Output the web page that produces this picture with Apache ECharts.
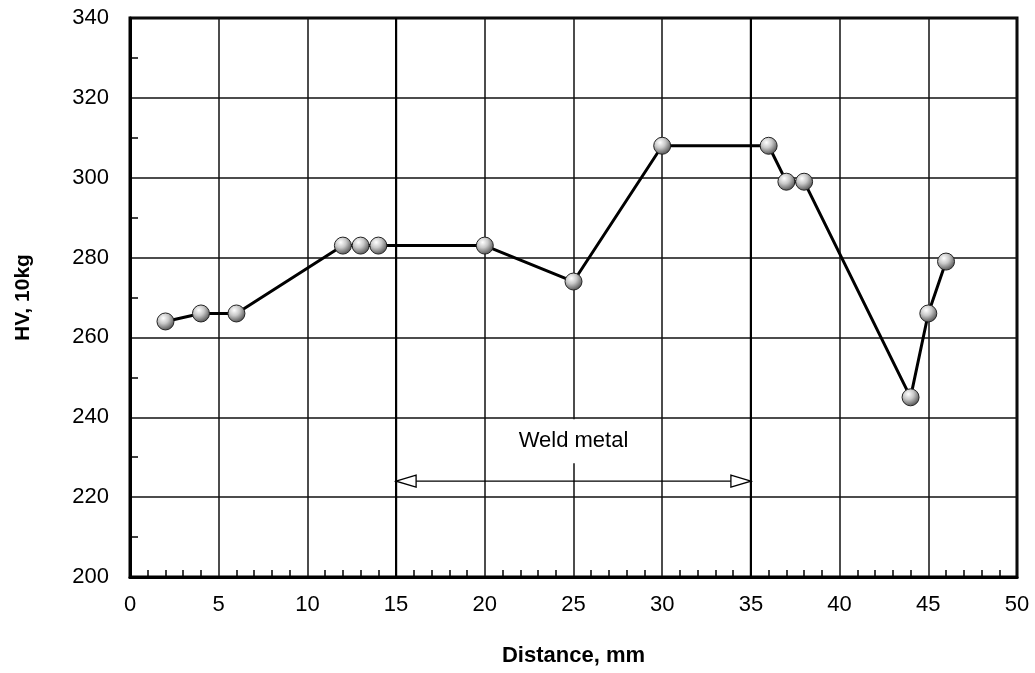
<!DOCTYPE html>
<html lang="en">
<head>
    <meta charset="UTF-8">
    <title>HV profile</title>
    <script src="https://cdn.jsdelivr.net/npm/echarts@6/dist/echarts.min.js"></script>
    <style>
        html, body { margin: 0; padding: 0; background: #fff; }
        #main { width: 1035px; height: 673px; }
    </style>
</head>
<body>
<div id="main"></div>
<script type="text/javascript">
    // distance (mm) and hardness readings
    var distance = [2, 4, 6, 12, 13, 14, 20, 25, 30, 36, 37, 38, 44, 45, 46];
    var hardness = [264, 266, 266, 283, 283, 283, 283, 274, 308, 308, 299, 299, 245, 266, 279];

    // weld metal zone
    var weldStart = 15;
    var weldEnd = 35;
    var arrowLevel = 224;
    var labelLevel = 234;
    var weldLabel = 'Weld metal';

    var points = [];
    for (var i = 0; i < distance.length; i++) {
        points.push([distance[i], hardness[i]]);
    }

    var font = '"Liberation Sans", Arial, sans-serif';
    var myChart = echarts.init(document.getElementById('main'));

    myChart.setOption({
        animation: false,
        grid: {left: 130, right: 18, top: 18, bottom: 96, show: true, borderColor: '#000', borderWidth: 3},
        xAxis: {
            type: 'value',
            min: 0,
            max: 50,
            interval: 5,
            name: 'Distance, mm',
            nameLocation: 'middle',
            nameGap: 68,
            nameTextStyle: {fontFamily: font, fontSize: 22, fontWeight: 'bold', color: '#000'},
            axisLine: {show: true, onZero: false, lineStyle: {color: '#000', width: 3}},
            axisTick: {show: false, inside: true},
            minorTick: {show: true, splitNumber: 5, length: 7, lineStyle: {color: '#000', width: 1.5}},
            axisLabel: {fontFamily: font, fontSize: 22, color: '#000', margin: 17},
            splitLine: {show: true, lineStyle: {color: '#111', width: 1.5}}
        },
        yAxis: {
            type: 'value',
            min: 200,
            max: 340,
            interval: 20,
            name: 'HV, 10kg',
            nameLocation: 'middle',
            nameGap: 96,
            nameTextStyle: {fontFamily: font, fontSize: 21, fontWeight: 'bold', color: '#000'},
            axisLine: {show: true, onZero: false, lineStyle: {color: '#000', width: 3}},
            axisTick: {show: false, inside: true},
            minorTick: {show: true, splitNumber: 2, length: 8, lineStyle: {color: '#000', width: 1.5}},
            axisLabel: {fontFamily: font, fontSize: 22, color: '#000', margin: 21},
            splitLine: {show: true, lineStyle: {color: '#111', width: 1.5}}
        },
        series: [{
            // weld zone boundaries, arrow and label
            type: 'custom',
            silent: true,
            z: 1,
            data: [[weldStart, weldEnd, arrowLevel, labelLevel]],
            renderItem: function (params, api) {
                var x0 = api.value(0), x1 = api.value(1), ya = api.value(2), yl = api.value(3);
                var top0 = api.coord([x0, 340]), bot0 = api.coord([x0, 200]);
                var top1 = api.coord([x1, 340]), bot1 = api.coord([x1, 200]);
                var a = api.coord([x0, ya]), b = api.coord([x1, ya]);
                var lbl = api.coord([(x0 + x1) / 2, yl]);
                var hl = 20, hw = 6;
                var arrowStyle = {fill: '#fff', stroke: '#000', lineWidth: 1.3};
                return {
                    type: 'group',
                    children: [
                        {type: 'line', shape: {x1: top0[0], y1: top0[1], x2: bot0[0], y2: bot0[1]}, style: {stroke: '#000', lineWidth: 2.2}},
                        {type: 'line', shape: {x1: top1[0], y1: top1[1], x2: bot1[0], y2: bot1[1]}, style: {stroke: '#000', lineWidth: 2.2}},
                        {type: 'line', shape: {x1: a[0] + hl, y1: a[1], x2: b[0] - hl, y2: b[1]}, style: {stroke: '#000', lineWidth: 1.3}},
                        {type: 'polygon', shape: {points: [[a[0], a[1]], [a[0] + hl, a[1] - hw], [a[0] + hl, a[1] + hw]]}, style: arrowStyle},
                        {type: 'polygon', shape: {points: [[b[0], b[1]], [b[0] - hl, b[1] - hw], [b[0] - hl, b[1] + hw]]}, style: arrowStyle},
                        {
                            type: 'text',
                            x: lbl[0],
                            y: lbl[1],
                            style: {
                                text: weldLabel,
                                fontFamily: font,
                                fontSize: 22,
                                fill: '#000',
                                align: 'center',
                                verticalAlign: 'middle',
                                backgroundColor: '#fff',
                                padding: [11, 6]
                            }
                        }
                    ]
                };
            }
        }, {
            name: 'HV',
            type: 'line',
            z: 3,
            data: points,
            symbol: 'circle',
            symbolSize: 17,
            lineStyle: {color: '#000', width: 3},
            itemStyle: {
                color: new echarts.graphic.RadialGradient(0.38, 0.32, 0.75, [
                    {offset: 0, color: '#ffffff'},
                    {offset: 0.4, color: '#c8c8c8'},
                    {offset: 1, color: '#3e3e3e'}
                ]),
                borderColor: '#222',
                borderWidth: 1
            }
        }]
    });

    window.addEventListener('resize', function () {
        myChart.resize();
    });
</script>
</body>
</html>
